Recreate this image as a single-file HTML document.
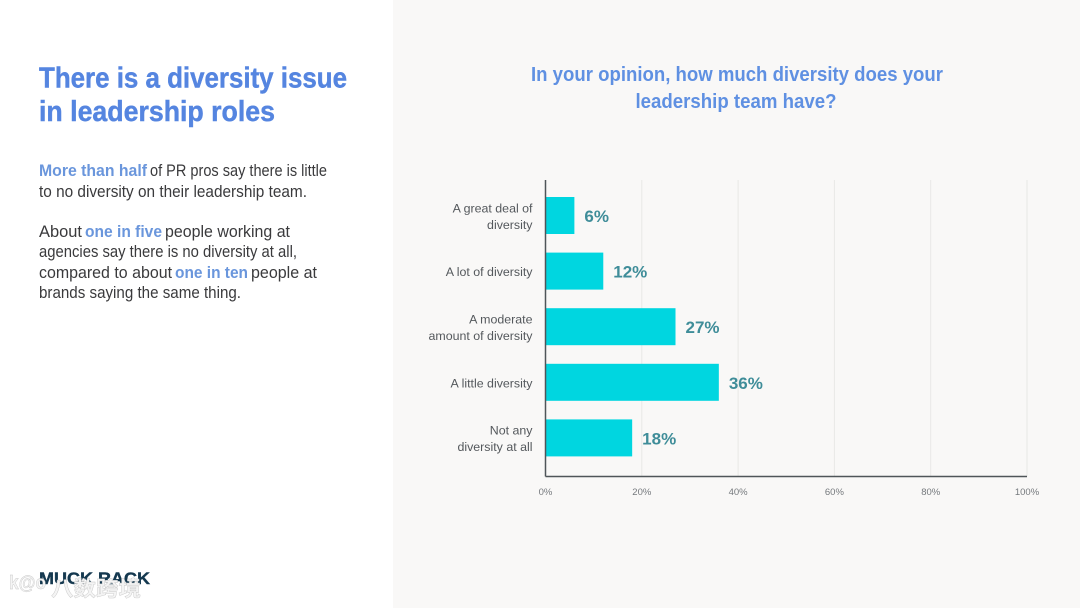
<!DOCTYPE html>
<html lang="en">
<head>
<meta charset="utf-8">
<title>There is a diversity issue in leadership roles</title>
<style>
html,body{margin:0;padding:0;width:1080px;height:608px;overflow:hidden;background:#fff}
svg{display:block;font-family:"Liberation Sans","Noto Sans CJK SC",sans-serif}
</style>
</head>
<body>
<svg id="slide" xmlns="http://www.w3.org/2000/svg" width="1080" height="608" viewBox="0 0 1080 608">
  <rect x="0" y="0" width="393" height="608" fill="#ffffff"/>
  <rect x="393" y="0" width="687" height="608" fill="#f9f8f7"/>

  <g font-size="29" font-weight="700" fill="#5585e0" stroke="#5585e0" stroke-width="0.45">
    <text x="39" y="87.5" textLength="308" lengthAdjust="spacingAndGlyphs">There is a diversity issue</text>
    <text x="39" y="121" textLength="236" lengthAdjust="spacingAndGlyphs">in leadership roles</text>
  </g>

  <g font-size="16.5" fill="#3a3a3c">
    <text x="39" y="176" font-weight="700" fill="#6a96dc" textLength="108" lengthAdjust="spacingAndGlyphs">More than half</text>
    <text x="150" y="176" textLength="177" lengthAdjust="spacingAndGlyphs">of PR pros say there is little</text>
    <text x="39" y="197" textLength="268" lengthAdjust="spacingAndGlyphs">to no diversity on their leadership team.</text>
    <text x="39" y="237" textLength="43" lengthAdjust="spacingAndGlyphs">About</text>
    <text x="85" y="237" font-weight="700" fill="#6a96dc" textLength="77" lengthAdjust="spacingAndGlyphs">one in five</text>
    <text x="165" y="237" textLength="125" lengthAdjust="spacingAndGlyphs">people working at</text>
    <text x="39" y="257" textLength="258" lengthAdjust="spacingAndGlyphs">agencies say there is no diversity at all,</text>
    <text x="39" y="278" textLength="133" lengthAdjust="spacingAndGlyphs">compared to about</text>
    <text x="175" y="278" font-weight="700" fill="#6a96dc" textLength="73" lengthAdjust="spacingAndGlyphs">one in ten</text>
    <text x="251" y="278" textLength="66" lengthAdjust="spacingAndGlyphs">people at</text>
    <text x="39" y="298" textLength="202" lengthAdjust="spacingAndGlyphs">brands saying the same thing.</text>
  </g>

  <g font-size="20" font-weight="700" fill="#5f90e2" text-anchor="middle">
    <text x="737" y="81" textLength="412" lengthAdjust="spacingAndGlyphs">In your opinion, how much diversity does your</text>
    <text x="736" y="108" textLength="201" lengthAdjust="spacingAndGlyphs">leadership team have?</text>
  </g>

  <g id="chart"></g>

  <g>
    <text x="39" y="584" font-size="17" font-weight="700" fill="#14384f" stroke="#14384f" stroke-width="0.4" textLength="111" lengthAdjust="spacingAndGlyphs">MUCK RACK</text>
  </g>

  <g fill="#f4f4f4" stroke="#c6c6c6" stroke-width="0.4">
    <text x="9" y="589" font-size="19" font-weight="700" textLength="37" lengthAdjust="spacingAndGlyphs">k@o</text>
    <text x="51" y="596" font-size="21" font-weight="700" textLength="90" lengthAdjust="spacingAndGlyphs">八数跨境</text>
  </g>
</svg>

<script>
const categories = [["A great deal of", "diversity"], ["A lot of diversity"], ["A moderate", "amount of diversity"], ["A little diversity"], ["Not any", "diversity at all"]];
const seriesValues = [6, 12, 27, 36, 18];
const tickValues = [0, 20, 40, 60, 80, 100];
const tickLabels = ["0%", "20%", "40%", "60%", "80%", "100%"];

const SVG_NS = 'http://www.w3.org/2000/svg';
const chart = document.getElementById('chart');
const plot = { left: 545.5, right: 1027, top: 180, bottom: 476.5 };
const firstBandCenter = 215.5;
const bandStep = 55.6;
const barHeight = 37;

function xScale(value) {
  return plot.left + (value / 100) * (plot.right - plot.left);
}
function yScale(index) {
  return firstBandCenter + index * bandStep;
}
function make(tag, attrs, text) {
  const el = document.createElementNS(SVG_NS, tag);
  Object.keys(attrs).forEach(function (key) { el.setAttribute(key, attrs[key]); });
  if (text !== undefined) { el.textContent = text; }
  chart.appendChild(el);
  return el;
}

tickValues.forEach(function (tick, i) {
  if (tick !== 0) {
    const grid = make('line', { x1: xScale(tick), x2: xScale(tick), y1: plot.top, y2: plot.bottom, stroke: '#e8e8e6', 'stroke-width': 1 });
    
    
  }
  const label = make('text', { x: xScale(tick), y: 495, 'font-size': 9.5, fill: '#75797d', 'text-anchor': 'middle' }, tickLabels[i]);
  
  
});

seriesValues.forEach(function (value, i) {
  const cy = yScale(i);
  const bar = make('rect', { x: plot.left, y: cy - barHeight / 2, width: xScale(value) - plot.left, height: barHeight, fill: '#00d6e0' });
  
  

  const valueLabel = make('text', { x: xScale(value) + 10, y: cy + 6.5, 'font-size': 17, 'font-weight': 700, fill: '#3f8d99' }, value + '%');
  
  

  const lines = categories[i];
  lines.forEach(function (line, j) {
    const offset = (j - (lines.length - 1) / 2) * 16.5 + 5;
    const catLabel = make('text', { x: 532.5, y: cy + offset, 'font-size': 12.4, fill: '#54585c', 'text-anchor': 'end' }, line);
    
    
  });
});

const yAxis = make('line', { x1: plot.left, x2: plot.left, y1: plot.top, y2: plot.bottom, stroke: '#4f5559', 'stroke-width': 1.5 });



const xAxis = make('line', { x1: plot.left, x2: plot.right, y1: plot.bottom, y2: plot.bottom, stroke: '#4f5559', 'stroke-width': 1.5 });


</script>
</body>
</html>
